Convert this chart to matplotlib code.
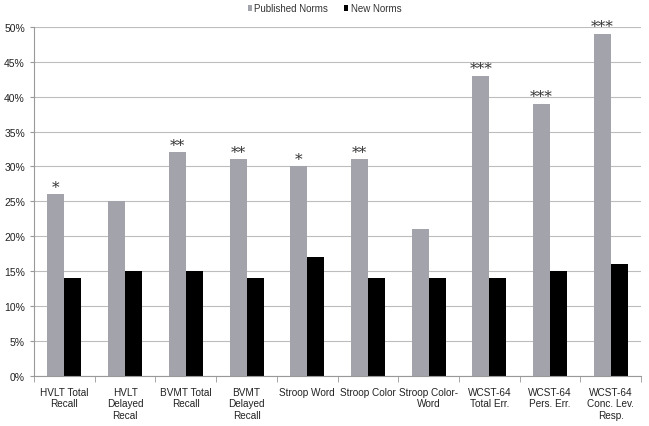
import numpy as np
import matplotlib.pyplot as plt
from matplotlib.ticker import PercentFormatter, FixedLocator

plt.rcParams['font.family'] = ['Liberation Sans', 'DejaVu Sans']

# Data
categories = ['HVLT Total\nRecall', 'HVLT\nDelayed\nRecal', 'BVMT Total\nRecall',
              'BVMT\nDelayed\nRecall', 'Stroop Word', 'Stroop Color',
              'Stroop Color-\nWord', 'WCST-64\nTotal Err.', 'WCST-64\nPers. Err.',
              'WCST-64\nConc. Lev.\nResp.']
published = [26, 25, 32, 31, 30, 31, 21, 43, 39, 49]
new_norms = [14, 15, 15, 14, 17, 14, 14, 14, 15, 16]
stars = ['*', '', '**', '**', '*', '**', '', '***', '***', '***']

fig = plt.figure(figsize=(6.49, 4.27), dpi=100)
ax = fig.add_axes([0.0524, 0.117, 0.9356, 0.818])

x = np.arange(len(categories))
w = 0.28
pub = np.array(published) / 100
new = np.array(new_norms) / 100
ax.bar(x - w/2, pub, w, color='#a3a3ab', label='Published Norms', zorder=2)
ax.bar(x + w/2, new, w, color='black', label='New Norms', zorder=2)

for xi, v, s in zip(x, pub, stars):
    if s:
        ax.text(xi - w/2, v + 0.001, s, ha='center', va='bottom',
                family='DejaVu Serif', fontsize=11, color='#333333')

ax.set_xlim(-0.5, len(categories) - 0.5)
ax.set_ylim(0, 0.5)
ax.set_yticks(np.arange(0, 0.501, 0.05))
ax.yaxis.set_major_formatter(PercentFormatter(1.0, decimals=0))
ax.yaxis.grid(True, color='#bdbdbd', linewidth=0.8, zorder=0)
ax.set_axisbelow(True)

ax.set_xticks(x)
ax.set_xticklabels(categories, fontsize=7.2, color='#222222', linespacing=1.15)
ax.tick_params(axis='x', length=0, pad=8)
ax.xaxis.set_minor_locator(FixedLocator(np.arange(-0.5, len(categories), 1)))
ax.tick_params(axis='x', which='minor', length=4, color='#999999')
ax.tick_params(axis='y', labelsize=7.5, labelcolor='#222222', length=3, color='#999999')

for sp in ['top', 'right']:
    ax.spines[sp].set_visible(False)
for sp in ['left', 'bottom']:
    ax.spines[sp].set_color('#999999')

leg = fig.legend(loc='center', bbox_to_anchor=(0.5, 0.978), ncol=2, frameon=False,
                 fontsize=7, handlelength=0.45, handleheight=0.45, handletextpad=0.25,
                 columnspacing=1.6)
for t in leg.get_texts():
    t.set_color('#333333')

fig.savefig('out.png', dpi=100)
